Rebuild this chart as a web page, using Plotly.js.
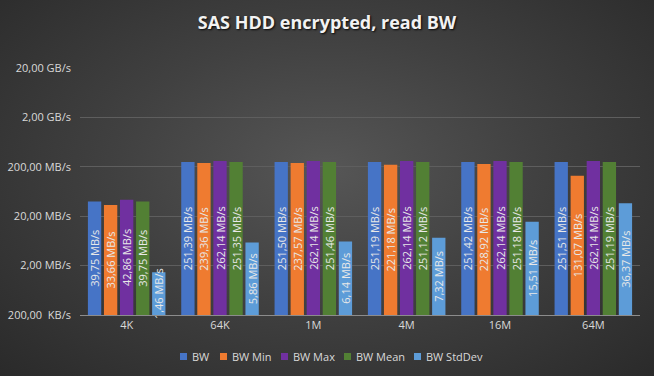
<!DOCTYPE html>
<html>
<head>
<meta charset="utf-8">
<script src="https://cdn.plot.ly/plotly-3.0.1.min.js"></script>
<style>
html,body{margin:0;padding:0;}
#chart{width:654px;height:376px;background:radial-gradient(ellipse at 50% 45%, #565656 0%, #414141 45%, #2a2a2a 100%);}
</style>
</head>
<body>
<div id="chart"></div>
<script>
const categories = ["4K", "64K", "1M", "4M", "16M", "64M"];
const bw      = [39.75, 251.39, 251.50, 251.19, 251.42, 251.51];
const bwMin   = [33.66, 239.36, 237.57, 221.18, 228.92, 131.07];
const bwMax   = [42.86, 262.14, 262.14, 262.14, 262.14, 262.14];
const bwMean  = [39.75, 251.35, 251.46, 251.12, 251.18, 251.19];
const bwStd   = [1.46, 5.86, 6.14, 7.32, 15.51, 36.37];
const seriesNames = ["BW", "BW Min", "BW Max", "BW Mean", "BW StdDev"];
const seriesColors = ["#4674c6", "#ef7b30", "#7030a0", "#528034", "#5d9cd8"];
const tickVals = [0.2, 2, 20, 200, 2000, 20000];
const tickText = ["200,00  KB/s", "2,00 MB/s", "20,00 MB/s", "200,00 MB/s", "2,00 GB/s", "20,00 GB/s"];

// legend layout (pixel left edge of each legend swatch)
const legendSwatchPx = [180, 220, 281, 344, 414];

const W = 654, H = 376;
const M = {l: 80, r: 14, t: 68, b: 61};
const plotW = W - M.l - M.r, plotH = H - M.t - M.b;
const px2x = p => (p - M.l) / plotW;
const py2y = p => (H - M.b - p) / plotH;

const fmt = v => v.toFixed(2).replace('.', ',') + ' MB/s';
const allSeries = [bw, bwMin, bwMax, bwMean, bwStd];
const font = "'Open Sans', 'Noto Sans', sans-serif";

const traces = allSeries.map((vals, i) => ({
  type: 'bar',
  name: seriesNames[i],
  x: categories,
  y: vals,
  text: vals.map(fmt),
  textposition: 'inside',
  insidetextanchor: 'middle',
  textangle: -90,
  constraintext: 'none',
  cliponaxis: false,
  textfont: {family: font, size: 11, color: '#e8e8e8'},
  marker: {color: seriesColors[i]},
  hoverinfo: 'none'
}));

const legendY = 356.5;
const shapes = [], annotations = [];
seriesNames.forEach((n, i) => {
  const x0 = legendSwatchPx[i];
  shapes.push({type: 'rect', xref: 'paper', yref: 'paper',
    x0: px2x(x0), x1: px2x(x0 + 7), y0: py2y(legendY - 3.5), y1: py2y(legendY + 3.5),
    fillcolor: seriesColors[i], line: {width: 0}});
  annotations.push({xref: 'paper', yref: 'paper', x: px2x(x0 + 10), y: py2y(legendY),
    xanchor: 'left', yanchor: 'middle', showarrow: false, text: n,
    font: {family: font, size: 11, color: '#d9d9d9'}});
});

const layout = {
  width: W, height: H,
  paper_bgcolor: 'rgba(0,0,0,0)',
  plot_bgcolor: 'rgba(0,0,0,0)',
  margin: M,
  title: {text: '<b>SAS HDD encrypted, read BW</b>', x: 0.5, xanchor: 'center', y: 0.94, yanchor: 'middle',
          font: {family: font, size: 18, color: '#f2f2f2', shadow: '1px 1px 2px rgba(0,0,0,0.9)'}},
  barmode: 'group',
  bargap: 0.14,
  bargroupgap: 0.17,
  showlegend: false,
  shapes: shapes,
  annotations: annotations,
  xaxis: {type: 'category', showgrid: false, showline: true, linecolor: '#8c8c8c', linewidth: 1,
          ticks: '', tickfont: {family: font, size: 11, color: '#d9d9d9'}, fixedrange: true},
  yaxis: {type: 'log', range: [Math.log10(0.2), Math.log10(20000)], tickvals: tickVals, ticktext: tickText,
          showgrid: true, gridcolor: '#5e5e5e', gridwidth: 1, zeroline: false, showline: false, ticks: '',
          tickfont: {family: font, size: 11, color: '#d9d9d9'}, ticklabelstandoff: 8, fixedrange: true}
};

Plotly.newPlot('chart', traces, layout, {displayModeBar: false, staticPlot: true});
</script>
</body>
</html>
